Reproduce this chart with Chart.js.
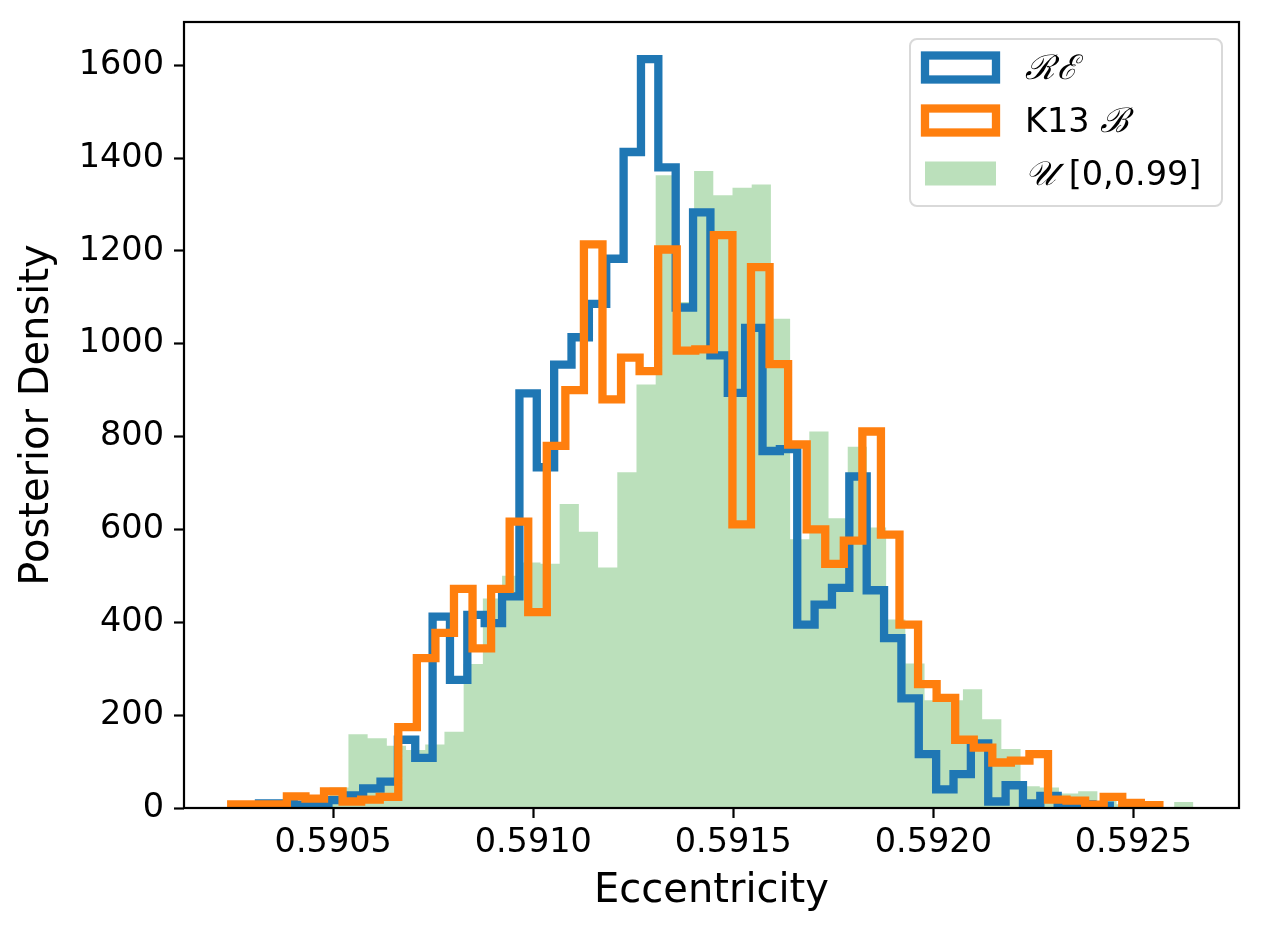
<!DOCTYPE html>
<html>
<head>
<meta charset="utf-8">
<title>Posterior Density vs Eccentricity</title>
<script src="https://cdn.jsdelivr.net/npm/chart.js@4.4.1/dist/chart.umd.min.js"></script>
<style>
  body { margin: 0; background: #fff; }
  #wrap { width: 1261px; height: 936px; }
</style>
</head>
<body>
<div id="wrap"><canvas id="eccChart" width="1261" height="936"></canvas></div>
<script>
// histogram bins: left edge of first bin and bin width
const reStart = 0.590271, reWidth = 0.0000434;
const k13Start = 0.590245, k13Width = 0.0000464;
const uniStart = 0.59049, uniWidth = 0.000048;

// densities
const reCounts = [0, 10, 10, 7, 8, 17, 27, 42, 57, 147, 108, 412, 276, 416, 398, 456, 893, 734, 955, 1014,
    1086, 1183, 1413, 1613, 1380, 1078, 1283, 975, 894, 1034, 769, 773, 395, 438, 474, 714, 469, 366, 236, 116,
    40, 73, 139, 14, 49, 10, 26, 3, 8, 5];
const k13Counts = [8, 8, 8, 25, 20, 36, 14, 18, 24, 174, 323, 377, 472, 344, 472, 617, 422, 780, 900, 1214,
    880, 970, 941, 1203, 985, 988, 1234, 611, 1165, 956, 783, 600, 526, 576, 811, 589, 395, 267, 237, 147,
    130, 98, 102, 116, 18, 16, 7, 24, 11, 6];
const uniCounts = [44, 159, 150, 134, 125, 137, 164, 310, 451, 500, 529, 526, 655, 595, 518, 723, 912, 1363, 1090, 1372,
    1320, 1336, 1343, 1054, 579, 811, 624, 778, 604, 406, 311, 232, 232, 256, 191, 127, 47, 44, 31, 36,
    15, 8, 3, 0, 13];

const seriesLabels = ['\u211B\u2130', 'K13 \u212C', '\uD835\uDCB0 [0,0.99]'];
const xTicks = [0.5905, 0.5910, 0.5915, 0.5920, 0.5925];
const yTicks = [0, 200, 400, 600, 800, 1000, 1200, 1400, 1600];
const xMin = 0.590127, xMax = 0.592764;
const yMax = 1693;

const FONT = "'DejaVu Sans', sans-serif";

// outline of a step histogram: up from zero, across every bin, back down
function stepPoints(start, width, counts) {
    const pts = [{ x: start, y: 0 }];
    counts.forEach((c, i) => pts.push({ x: start + i * width, y: c }));
    const end = start + counts.length * width;
    pts.push({ x: end, y: counts[counts.length - 1] }, { x: end, y: 0 });
    return pts;
}

// black box round the axes, like matplotlib spines
const frame = {
    id: 'frame',
    afterDatasetsDraw(chart) {
        const { ctx, chartArea: a } = chart;
        ctx.save();
        ctx.strokeStyle = '#000';
        ctx.lineWidth = 2.2;
        ctx.strokeRect(a.left, a.top, a.right - a.left, a.bottom - a.top);
        ctx.restore();
    }
};

// draw a label; the script letters get their own face
function drawLabel(ctx, text, x, y) {
    for (const ch of Array.from(text)) {
        const script = ch.charCodeAt(0) > 255;
        ctx.font = script ? "italic 34px 'DejaVu Serif', serif" : '33.5px ' + FONT;
        ctx.fillText(ch, x, y);
        x += ctx.measureText(ch).width + (script ? 2 : 0);
    }
}

// legend in the upper right corner of the plot
const cornerLegend = {
    id: 'cornerLegend',
    afterDraw(chart) {
        const { ctx, chartArea: a } = chart;
        const w = 312, h = 167;
        const left = a.right - 17 - w, top = a.top + 17;
        ctx.save();
        ctx.beginPath();
        ctx.roundRect(left, top, w, h, 7);
        ctx.fillStyle = 'rgba(255,255,255,0.8)';
        ctx.fill();
        ctx.strokeStyle = '#d9d9d9';
        ctx.lineWidth = 2;
        ctx.stroke();

        chart.data.datasets.forEach((ds, i) => {
            const cy = top + 28.5 + i * 53;
            if (ds.fill) {
                ctx.fillStyle = ds.backgroundColor;
                ctx.fillRect(left + 15, cy - 12, 71, 24);
            } else {
                ctx.strokeStyle = ds.borderColor;
                ctx.lineWidth = 8.3;
                ctx.lineJoin = 'miter';
                ctx.strokeRect(left + 15, cy - 12, 71, 24);
            }
            ctx.fillStyle = '#000';
            ctx.textBaseline = 'alphabetic';
            drawLabel(ctx, ds.label, left + 115, cy + 11.5);
        });
        ctx.restore();
    }
};

new Chart(document.getElementById('eccChart'), {
    type: 'line',
    data: {
        datasets: [
            {
                label: seriesLabels[0],
                data: stepPoints(reStart, reWidth, reCounts),
                stepped: true,
                borderColor: '#1f77b4',
                backgroundColor: '#fff',
                borderWidth: 8.3,
                borderJoinStyle: 'miter',
                fill: false,
                pointRadius: 0,
                order: 1
            },
            {
                label: seriesLabels[1],
                data: stepPoints(k13Start, k13Width, k13Counts),
                stepped: true,
                borderColor: '#ff7f0e',
                backgroundColor: '#fff',
                borderWidth: 8.3,
                borderJoinStyle: 'miter',
                fill: false,
                pointRadius: 0,
                order: 0
            },
            {
                label: seriesLabels[2],
                data: stepPoints(uniStart, uniWidth, uniCounts),
                stepped: true,
                borderColor: 'transparent',
                backgroundColor: 'rgba(44,160,44,0.32)',
                borderWidth: 0,
                fill: 'origin',
                pointRadius: 0,
                order: 2
            }
        ]
    },
    options: {
        responsive: false,
        animation: false,
        devicePixelRatio: 1,
        layout: { padding: { top: 22, right: 22, left: 0, bottom: 0 } },
        plugins: {
            legend: { display: false },
            tooltip: { enabled: false }
        },
        scales: {
            x: {
                type: 'linear',
                min: xMin,
                max: xMax,
                afterBuildTicks: s => { s.ticks = xTicks.map(v => ({ value: v })); },
                afterFit: s => { s.height = 128; s.paddingLeft = 0; s.paddingRight = 0; },
                ticks: {
                    font: { family: FONT, size: 33.5 },
                    color: '#000',
                    padding: 5,
                    maxRotation: 0,
                    autoSkip: false,
                    callback: v => v.toFixed(4)
                },
                grid: { drawOnChartArea: false, tickLength: 10, tickWidth: 2.2, tickColor: '#000' },
                border: { display: false },
                title: {
                    display: true,
                    text: 'Eccentricity',
                    color: '#000',
                    font: { family: FONT, size: 40 },
                    padding: { top: 0, bottom: 20 }
                }
            },
            y: {
                min: 0,
                max: yMax,
                afterBuildTicks: s => { s.ticks = yTicks.map(v => ({ value: v })); },
                afterFit: s => { s.width = 184; s.paddingTop = 0; s.paddingBottom = 0; },
                ticks: {
                    font: { family: FONT, size: 33.5 },
                    color: '#000',
                    padding: 10,
                    autoSkip: false,
                    callback: v => String(v)
                },
                grid: { drawOnChartArea: false, tickLength: 10, tickWidth: 2.2, tickColor: '#000' },
                border: { display: false },
                title: {
                    display: true,
                    text: 'Posterior Density',
                    color: '#000',
                    font: { family: FONT, size: 40 },
                    padding: { top: 14, bottom: 0 }
                }
            }
        }
    },
    plugins: [frame, cornerLegend]
});
</script>
</body>
</html>
